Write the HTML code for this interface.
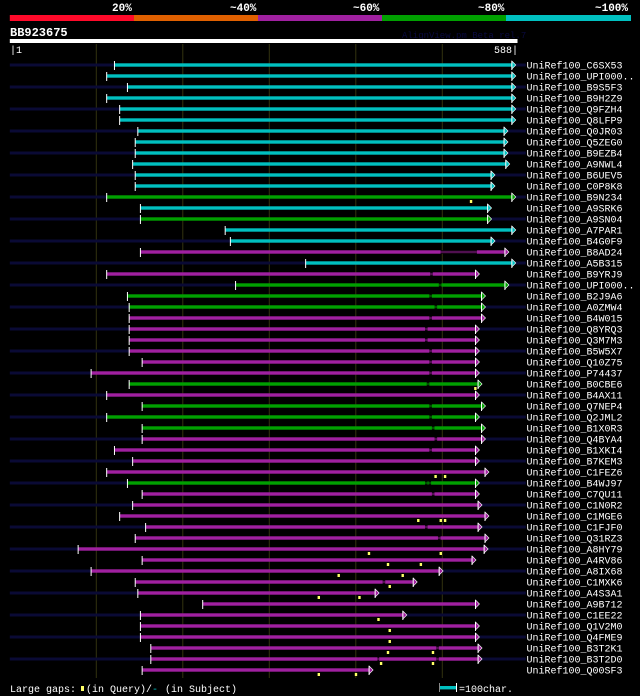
<!DOCTYPE html>
<html><head><meta charset="utf-8"><style>
html,body{margin:0;padding:0;background:#000;}
svg{display:block;font-family:"Liberation Mono","DejaVu Sans Mono",monospace;}
</style></head><body>
<svg id="chart" width="640" height="696" viewBox="0 0 640 696" xmlns="http://www.w3.org/2000/svg">
<g>
<rect x="9.8" y="15" width="124.2" height="6" fill="#ff0a2a"/>
<rect x="134" y="15" width="124" height="6" fill="#e06000"/>
<rect x="258" y="15" width="124" height="6" fill="#a020a0"/>
<rect x="382" y="15" width="124" height="6" fill="#00a000"/>
<rect x="506" y="15" width="125" height="6" fill="#00c0c0"/>
<g fill="#fff" font-size="11" font-weight="bold">
<text x="112" y="11">20%</text>
<text x="230" y="11">~40%</text>
<text x="353" y="11">~60%</text>
<text x="478" y="11">~80%</text>
<text x="595" y="11">~100%</text>
</g>
</g>
<text x="10" y="36" fill="#fff" font-size="12" font-weight="bold">BB923675</text>
<text x="402" y="38" fill="#0a0a40" font-size="9">AlignView.pm Beta rel.7</text>
<rect x="9.8" y="39" width="507.7" height="4" fill="#fff"/>
<text x="10" y="53" fill="#fff" font-size="10">|1</text>
<text x="518" y="53" fill="#fff" font-size="10" text-anchor="end">588|</text>
<g id="grid"></g>
<g id="rows"></g>
<g font-size="10" fill="#fff">
<text x="10" y="692">Large gaps:</text>
<rect x="81" y="686" width="3" height="5" fill="#ffff66"/>
<text x="86" y="692">(in Query)/</text>
<text x="152" y="692" fill="#00c0c0">-</text>
<text x="165" y="692">(in Subject)</text>
<rect x="439" y="686" width="17" height="3.4" fill="#00c0c0"/>
<rect x="439" y="683" width="1" height="9" fill="#888"/>
<rect x="456" y="683" width="1" height="9" fill="#fff"/>
<text x="459" y="692">=100char.</text>
</g>
</svg>
<script>
const names=["C6SX53","UPI000..","B9S5F3","B9H2Z9","Q9FZH4","Q8LFP9","Q0JR03","Q5ZEG0","B9EZB4","A9NWL4","B6UEV5","C0P8K8","B9N234","A9SRK6","A9SN04","A7PAR1","B4G0F9","B8AD24","A5B315","B9YRJ9","UPI000..","B2J9A6","A0ZMW4","B4W015","Q8YRQ3","Q3M7M3","B5W5X7","Q10Z75","P74437","B0CBE6","B4AX11","Q7NEP4","Q2JML2","B1X0R3","Q4BYA4","B1XKI4","B7KEM3","C1FEZ6","B4WJ97","C7QU11","C1N0R2","C1MGE6","C1FJF0","Q31RZ3","A8HY79","A4RV86","A8IX68","C1MXK6","A4S3A1","A9B712","C1EE22","Q1V2M0","Q4FME9","B3T2K1","B3T2D0","Q00SF3"];
const colors="cccccccccccc"+"gcgccmcmggg"+"mmmmmm"+"g"+"m"+"ggg"+"mmmm"+"g"+"mmmmmmmmmmmmmmmmm";
const starts=[122,113,137,113,128,128,149,146,146,143,146,146,113,152,152,250,256,152,343,113,262,137,139,139,139,139,139,154,95,139,113,154,113,154,154,122,143,113,137,154,143,128,158,146,80,154,95,146,149,224,152,152,152,164,164,154];
const ends=[586,586,586,586,586,586,577,577,577,579,562,562,586,558,558,586,562,578,586,544,578,551,551,551,544,544,544,544,544,547,544,551,544,551,551,544,544,555,544,544,547,555,547,555,554,540,502,472,428,544,460,544,544,547,547,421];
const queryGaps=[[],[],[],[],[],[],[],[],[],[],[],[],[534],[],[],[],[],[],[],[],[],[],[],[],[],[],[],[],[],[539],[],[],[],[],[],[],[],[493,504],[],[],[],[473,499,504],[],[],[416,499],[438,476],[381,455],[440],[358,405],[],[427],[440],[440],[438,490],[430,490],[358,401]];
const subjectGaps=[[],[],[],[],[],[],[],[],[],[],[],[],[],[],[],[],[],[[499,541]],[],[[487,490]],[[497,500]],[[486,489]],[[492,495]],[[486,489]],[[481,484]],[[481,484]],[[486,489]],[[486,489]],[[486,489]],[[483,486]],[],[[486,489]],[[486,489]],[[489,492]],[[492,495]],[[486,489]],[],[],[[481,484],[485,488]],[[489,492]],[],[],[[481,484]],[[496,499]],[],[],[],[[432,435]],[],[],[],[],[],[[494,497]],[[426,428],[494,497]],[]];
const tickPositions=[101,201,301,401,501];
const colorMap={c:"#00c0c0",g:"#00a000",m:"#a020a0"};
const NS="http://www.w3.org/2000/svg";
function xs(p){return 9.8+(p-1)*0.865;}
function ys(i){return 65+i*11;}
function mk(tag,at,parent){const e=document.createElementNS(NS,tag);for(const k in at)e.setAttribute(k,at[k]);parent.appendChild(e);return e;}
const grid=document.getElementById('grid');
tickPositions.forEach(p=>{
  const l=mk('rect',{x:xs(p)-0.5,y:44,width:1,height:634,fill:'#333310'},grid);
  
  
});
const rows=document.getElementById('rows');
names.forEach((n,i)=>{
  const y=ys(i);
  const col=colorMap[colors[i]];
  const g=mk('g',{},rows);
  
  
  if(i%2===0){
    const s=mk('rect',{x:9.8,y:y-1.5,width:516,height:3,fill:'#0a0a35'},g);
    
    
  }
  const x1=xs(starts[i]),x2=xs(ends[i]);
  const b=mk('rect',{x:x1,y:y-1.7,width:Math.max(0,x2-4-x1),height:3.4,fill:col},g);
  
  
  subjectGaps[i].forEach(gp=>{
    const ga=xs(gp[0]),gb=xs(gp[1]);
    mk('rect',{x:ga,y:y-1.7,width:gb-ga,height:3.4,fill:'#000'},g);
    const t=mk('rect',{x:ga,y:y-0.5,width:gb-ga,height:1,fill:col},g);
    
    
  });
  const a=mk('polygon',{points:`${x2-4},${y-4} ${x2},${y} ${x2-4},${y+4}`,fill:col,stroke:'#fff','stroke-width':0.6},g);
  
  
  const s2=mk('rect',{x:x1-0.5,y:y-4,width:1,height:9,fill:'#fff'},g);
  
  
  mk('rect',{x:x2-4.5,y:y-4,width:1,height:9,fill:'#fff'},g);
  queryGaps[i].forEach(q=>{
    const m=mk('rect',{x:xs(q)-1,y:y+3,width:2.4,height:3,fill:'#ffff66'},g);
    
    
  });
  const t=mk('text',{x:526.5,y:y+3.5,fill:'#fff','font-size':10},g);
  t.textContent='UniRef100_'+n;
  
  
});
</script>
</body></html>
